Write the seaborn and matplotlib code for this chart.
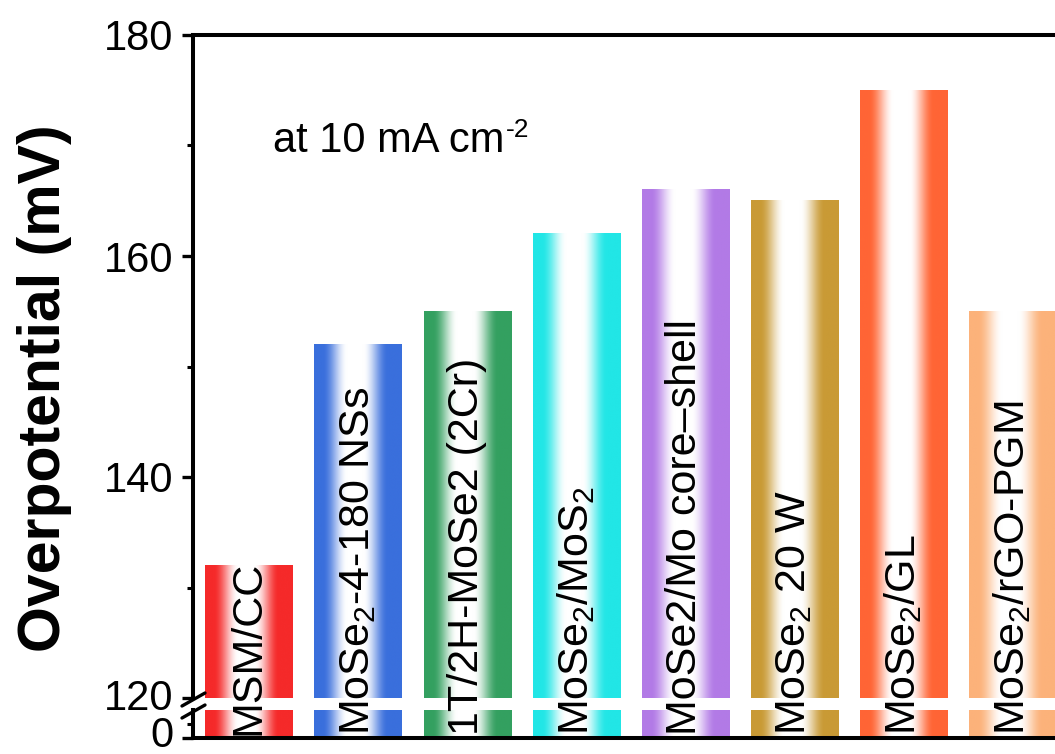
import numpy as np
import pandas as pd
import matplotlib
matplotlib.use("Agg")
import matplotlib.pyplot as plt
from matplotlib.colors import to_rgb
from matplotlib.lines import Line2D
from matplotlib.transforms import ScaledTranslation
import seaborn as sns

# Overpotential at 10 mA cm^-2 for MoSe2-based HER catalysts
catalysts = [
    "MSM/CC",
    "MoSe$_2$-4-180 NSs",
    "1T/2H-MoSe2 (2Cr)",
    "MoSe$_2$/MoS$_2$",
    "MoSe2/Mo core–shell",
    "MoSe$_2$ 20 W",
    "MoSe$_2$/GL",
    "MoSe$_2$/rGO-PGM",
]
overpotential_mv = [132, 152, 155, 162, 166, 165, 175, 155]
bar_colors = ["#f52a2a", "#3a6fdc", "#34a060", "#22e6e6",
              "#b27ae6", "#c99a35", "#ff6535", "#fcb27a"]
upper_ticks = [120, 140, 160, 180]
lower_ticks = [0]

sns.set_style("ticks")
plt.rcParams["font.family"] = ["Liberation Sans", "DejaVu Sans"]
plt.rcParams["mathtext.fontset"] = "custom"
plt.rcParams["mathtext.rm"] = "Liberation Sans"
plt.rcParams["mathtext.it"] = "Liberation Sans:italic"
plt.rcParams["mathtext.bf"] = "Liberation Sans:bold"
plt.rcParams["mathtext.default"] = "regular"
for key in ["axes.edgecolor", "text.color", "xtick.color", "ytick.color",
            "axes.labelcolor"]:
    plt.rcParams[key] = "black"

df = pd.DataFrame({"catalyst": catalysts, "eta": overpotential_mv})
palette = dict(zip(catalysts, bar_colors))

W, H = 1055, 754
fig = plt.figure(figsize=(W / 100, H / 100), dpi=100)

left_px, right_px = 193, 1089
top_px, brk_hi_px, brk_lo_px, bot_px = 35, 698, 710, 738
ax_top = fig.add_axes([left_px / W, 1 - brk_hi_px / H,
                       (right_px - left_px) / W, (brk_hi_px - top_px) / H])
ax_bot = fig.add_axes([left_px / W, 1 - bot_px / H,
                       (right_px - left_px) / W, (bot_px - brk_lo_px) / H])

xlim = (-0.513, 7.7)
spine_lw = 2.9


def shade_bars(ax):
    """Replace flat bar fills with an edge-to-centre fade to white."""
    t = np.linspace(0, 1, 300)
    s = np.clip((np.abs(t - 0.47) - 0.09) / 0.28, 0, 1)
    a = s * s * (3 - 2 * s)
    lo, hi = ax.get_ylim()
    for patch in list(ax.patches):
        c = np.array(to_rgb(patch.get_facecolor()))
        rgb = 1 - a[:, None] * (1 - c[None, :])
        img = np.repeat(rgb[None, :, :], 2, axis=0)
        x0, y0 = patch.get_x(), patch.get_y()
        w, h = patch.get_width(), patch.get_height()
        y_a, y_b = max(y0, lo), min(y0 + h, hi)
        if y_b <= y_a:
            continue
        ax.imshow(img, extent=[x0, x0 + w, y_a, y_b], aspect="auto",
                  interpolation="bilinear", zorder=patch.get_zorder() + 0.1)


for ax, ylim in ((ax_top, (120, 180)), (ax_bot, (0, 1))):
    sns.barplot(data=df, x="catalyst", y="eta", hue="catalyst", palette=palette,
                width=0.8, saturation=1, linewidth=0, legend=False, ax=ax)
    ax.set_xlim(*xlim)
    ax.set_ylim(*ylim)
    shade_bars(ax)
    ax.set_xlim(*xlim)
    ax.set_ylim(*ylim)
    ax.set_xlabel("")
    ax.set_ylabel("")
    ax.set_xticks([])
    ax.patch.set_alpha(0)
    for s in ax.spines.values():
        s.set_linewidth(spine_lw)
        s.set_color("black")
    ax.tick_params(axis="y", which="major", direction="out", length=8, width=2.4,
                   labelsize=30, pad=6, colors="black")
    ax.tick_params(axis="y", which="minor", direction="out", length=4, width=2.2,
                   colors="black")

ax_top.set_yticks(upper_ticks)
ax_top.set_yticks([130, 150, 170], minor=True)
ax_top.spines["bottom"].set_visible(False)

ax_bot.set_yticks(lower_ticks)
ax_bot.set_yticks([0.5], minor=True)
ax_bot.spines["top"].set_visible(False)

# nudge the two labels either side of the break apart
for lab in ax_bot.get_yticklabels():
    lab.set_transform(lab.get_transform()
                      + ScaledTranslation(0, 0.065, fig.dpi_scale_trans))
ax_top.get_yticklabels()[0].set_transform(
    ax_top.get_yticklabels()[0].get_transform()
    + ScaledTranslation(0, 0.03, fig.dpi_scale_trans))

# category names written up through each bar
for i, name in enumerate(catalysts):
    ax_bot.annotate(name, xy=(i, 0), xycoords=ax_bot.get_xaxis_transform(),
                    xytext=(0, 2.5), textcoords="offset points", rotation=90,
                    ha="center", va="bottom", fontsize=31, color="black",
                    annotation_clip=False, zorder=20)

# current-density note, with a hyphen-style exponent
note = ax_top.text(0.0893, 0.8235, "at 10 mA cm", transform=ax_top.transAxes,
                   fontsize=30, ha="left", va="baseline", zorder=20)
ax_top.annotate("-2", xy=(1.0, 1.0), xycoords=note, xytext=(1, 2),
                textcoords="offset points", fontsize=19, ha="left", va="top",
                zorder=20)

fig.text(45 / W, 1 - 388 / H, "Overpotential (mV)", rotation=90,
         fontsize=42.5, fontweight="bold", ha="center", va="center")

# axis-break marks on the left spine
for y_lo, y_hi in [(706, 693), (718, 705)]:
    fig.add_artist(Line2D([182 / W, 205 / W], [1 - y_lo / H, 1 - y_hi / H],
                          transform=fig.transFigure, color="black", lw=2.4))

fig.savefig("out.png", dpi=100)
